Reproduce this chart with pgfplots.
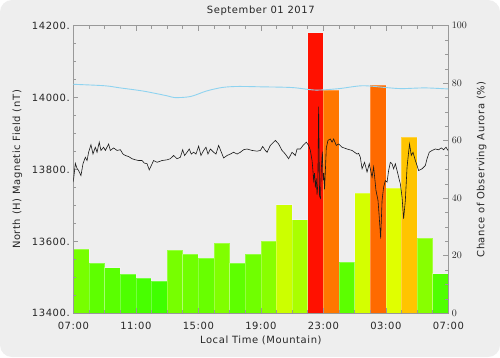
\documentclass[border=0pt]{standalone}
\usepackage{fontspec}
\setmainfont{DejaVu Sans}[LetterSpace=6.0]
\usepackage{pgfplots}
\pgfplotsset{compat=1.18}
\definecolor{bg}{HTML}{EEEEEE}
\definecolor{axc}{HTML}{999999}
\definecolor{cy}{HTML}{8ED3F0}
\definecolor{b1}{HTML}{77FF00}
\definecolor{b2}{HTML}{5EFF00}
\definecolor{b3}{HTML}{5AFF00}
\definecolor{b4}{HTML}{4EFF00}
\definecolor{b5}{HTML}{48FF00}
\definecolor{b6}{HTML}{40FF00}
\definecolor{b7}{HTML}{77FF00}
\definecolor{b8}{HTML}{70FF00}
\definecolor{b9}{HTML}{68FF00}
\definecolor{b10}{HTML}{80FF00}
\definecolor{b11}{HTML}{5EFF00}
\definecolor{b12}{HTML}{70FF00}
\definecolor{b13}{HTML}{88FF00}
\definecolor{b14}{HTML}{CCFF00}
\definecolor{b15}{HTML}{AAFF00}
\definecolor{b16}{HTML}{FF1100}
\definecolor{b17}{HTML}{FF7700}
\definecolor{b18}{HTML}{5CFF00}
\definecolor{b19}{HTML}{D4FF00}
\definecolor{b20}{HTML}{FF6A00}
\definecolor{b21}{HTML}{E0FF00}
\definecolor{b22}{HTML}{FFC400}
\definecolor{b23}{HTML}{88FF00}
\definecolor{b24}{HTML}{50FF00}
\pgfplotsset{
  bars/.style={ybar, bar width=1, bar shift=0pt, draw=white, draw opacity=0.25, line width=0.4pt, fill=#1},
  common/.style={
    at={(73.3bp,43.7bp)}, anchor=south west,
    scale only axis, width=375bp, height=287.6bp,
    xmin=0, xmax=24,
    major tick length=5bp, minor tick length=3bp,
    every tick/.style={axc, line width=0.6pt},
    axis line style={axc, line width=0.8pt},
    tick label style={font=\fontsize{10}{12}\selectfont, text=black!85},
    label style={font=\fontsize{10}{12}\selectfont, text=black!85},
  }
}
\begin{document}
\begin{tikzpicture}[x=1bp,y=1bp]
\fill[white] (0,0) rectangle (500,357);
\fill[bg, rounded corners=12bp] (0,0) rectangle (500,357);
\begin{axis}[common,
  ymin=0, ymax=100,
  axis on top,
  xtick={0,4,...,24},
  xticklabels={07:00,11:00,15:00,19:00,23:00,03:00,07:00},
  minor x tick num=3,
  xtick pos=both,
  xticklabel style={anchor=center, yshift=-12.7bp},
  ytick={0,20,...,100}, minor y tick num=3,
  ytick pos=right, yticklabel pos=right,
  title={September 01 2017},
  title style={at={(axis description cs:0.5,1.0303)}, anchor=center, font=\fontsize{10}{12}\selectfont, text=black!85},
  xlabel={Local Time (Mountain)},
  xlabel style={at={(axis description cs:0.5,-0.0953)}, anchor=center},
  ylabel={Chance of Observing Aurora (\%)},
  ylabel style={at={(axis description cs:1.0891,0.5)}, anchor=center},
]
\addplot[bars=b1]  coordinates {(0.5,22.2)};
\addplot[bars=b2]  coordinates {(1.5,17.4)};
\addplot[bars=b3]  coordinates {(2.5,15.9)};
\addplot[bars=b4]  coordinates {(3.5,13.5)};
\addplot[bars=b5]  coordinates {(4.5,12.2)};
\addplot[bars=b6]  coordinates {(5.5,11.1)};
\addplot[bars=b7]  coordinates {(6.5,22.1)};
\addplot[bars=b8]  coordinates {(7.5,20.5)};
\addplot[bars=b9]  coordinates {(8.5,19.1)};
\addplot[bars=b10] coordinates {(9.5,24.4)};
\addplot[bars=b11] coordinates {(10.5,17.4)};
\addplot[bars=b12] coordinates {(11.5,20.6)};
\addplot[bars=b13] coordinates {(12.5,25.0)};
\addplot[bars=b14] coordinates {(13.5,37.8)};
\addplot[bars=b15] coordinates {(14.5,32.6)};
\addplot[bars=b16] coordinates {(15.5,97.6)};
\addplot[bars=b17] coordinates {(16.5,77.7)};
\addplot[bars=b18] coordinates {(17.5,17.8)};
\addplot[bars=b19] coordinates {(18.5,41.8)};
\addplot[bars=b20] coordinates {(19.5,79.3)};
\addplot[bars=b21] coordinates {(20.5,43.6)};
\addplot[bars=b22] coordinates {(21.5,61.2)};
\addplot[bars=b23] coordinates {(22.5,26.2)};
\addplot[bars=b24] coordinates {(23.5,13.8)};
\end{axis}
\begin{axis}[common,
  ymin=13400, ymax=14200,
  scaled y ticks=false,
  hide x axis,
  axis line style={draw=none},
  ytick={13400,13600,13800,14000,14200},
  yticklabels={13400.,13600.,13800.,14000.,14200.},
  minor y tick num=3,
  ytick pos=left, yticklabel pos=left,
  ylabel={North (H) Magnetic Field (nT)},
  ylabel style={at={(axis description cs:-0.1493,0.5)}, anchor=center},
]
\addplot[cy, line width=0.9pt, smooth] coordinates {
(0,14037) (2,14033) (3,14027) (4.5,14018) (6,14005) (6.5,14000) (7.5,14003)
(8.5,14018) (9.5,14028) (10.5,14031) (12,14030) (14,14028) (15.5,14021)
(17,14025) (18.5,14033) (20,14028) (21,14025) (22.5,14027) (24,14024)};
\addplot[black!90, line width=0.6pt] coordinates {
(0.00,13765) (0.13,13817) (0.24,13803) (0.34,13797) (0.49,13783) (0.62,13816)
(0.77,13834) (0.88,13825) (0.98,13848) (1.13,13869) (1.26,13843) (1.41,13862)
(1.52,13848) (1.66,13876) (1.77,13853) (1.94,13862) (2.05,13853) (2.26,13871)
(2.37,13853) (2.58,13860) (2.80,13853) (3.01,13855) (3.18,13843) (3.33,13839)
(3.54,13836) (3.76,13830) (3.97,13827) (4.18,13825) (4.40,13825) (4.54,13818)
(4.72,13816) (4.86,13799) (4.99,13811) (5.14,13825) (5.36,13820) (5.68,13825)
(6.00,13827) (6.21,13830) (6.42,13839) (6.64,13830) (6.85,13834) (7.00,13855)
(7.12,13839) (7.28,13848) (7.42,13857) (7.55,13843) (7.70,13848) (7.85,13843)
(8.02,13865) (8.17,13839) (8.34,13853) (8.49,13862) (8.62,13843) (8.77,13857)
(8.98,13848) (9.13,13843) (9.30,13867) (9.43,13853) (9.62,13832) (9.84,13839)
(10.05,13843) (10.26,13848) (10.48,13843) (10.69,13848) (10.90,13855) (11.12,13857)
(11.44,13853) (11.76,13851) (11.97,13853) (12.12,13864) (12.29,13853) (12.40,13848)
(12.61,13867) (12.93,13881) (13.14,13871) (13.36,13853) (13.57,13843) (13.78,13830)
(14.00,13848) (14.21,13839) (14.32,13857) (14.53,13857) (14.70,13867) (14.91,13876)
(15.06,13867) (15.17,13853) (15.28,13825) (15.33,13800) (15.38,13770) (15.44,13790)
(15.49,13750) (15.55,13775) (15.60,13730) (15.65,13760) (15.70,13975) (15.76,13725)
(15.82,13720) (15.87,13800) (15.94,13850) (15.99,13770) (16.03,13790) (16.08,13745)
(16.14,13805) (16.19,13860) (16.30,13881) (16.45,13885) (16.56,13876) (16.66,13885)
(16.83,13867) (16.98,13871) (17.20,13862) (17.52,13857) (17.84,13853) (18.16,13843)
(18.26,13845) (18.37,13834) (18.48,13802) (18.64,13820) (18.80,13793) (18.94,13816)
(19.12,13779) (19.22,13807) (19.37,13742) (19.50,13714) (19.58,13668) (19.67,13608)
(19.76,13714) (19.86,13751) (19.97,13769) (20.08,13765) (20.18,13797) (20.29,13820)
(20.40,13816) (20.50,13802) (20.61,13816) (20.72,13797) (20.82,13779) (20.93,13760)
(21.04,13723) (21.14,13663) (21.25,13714) (21.36,13807) (21.46,13848) (21.52,13871)
(21.63,13839) (21.74,13848) (21.89,13825) (22.00,13811) (22.10,13797) (22.32,13802)
(22.53,13811) (22.64,13830) (22.78,13848) (22.96,13853) (23.17,13857) (23.38,13855)
(23.55,13860) (23.70,13855) (23.85,13862) (23.98,13853)};
\end{axis}
\end{tikzpicture}
\end{document}
